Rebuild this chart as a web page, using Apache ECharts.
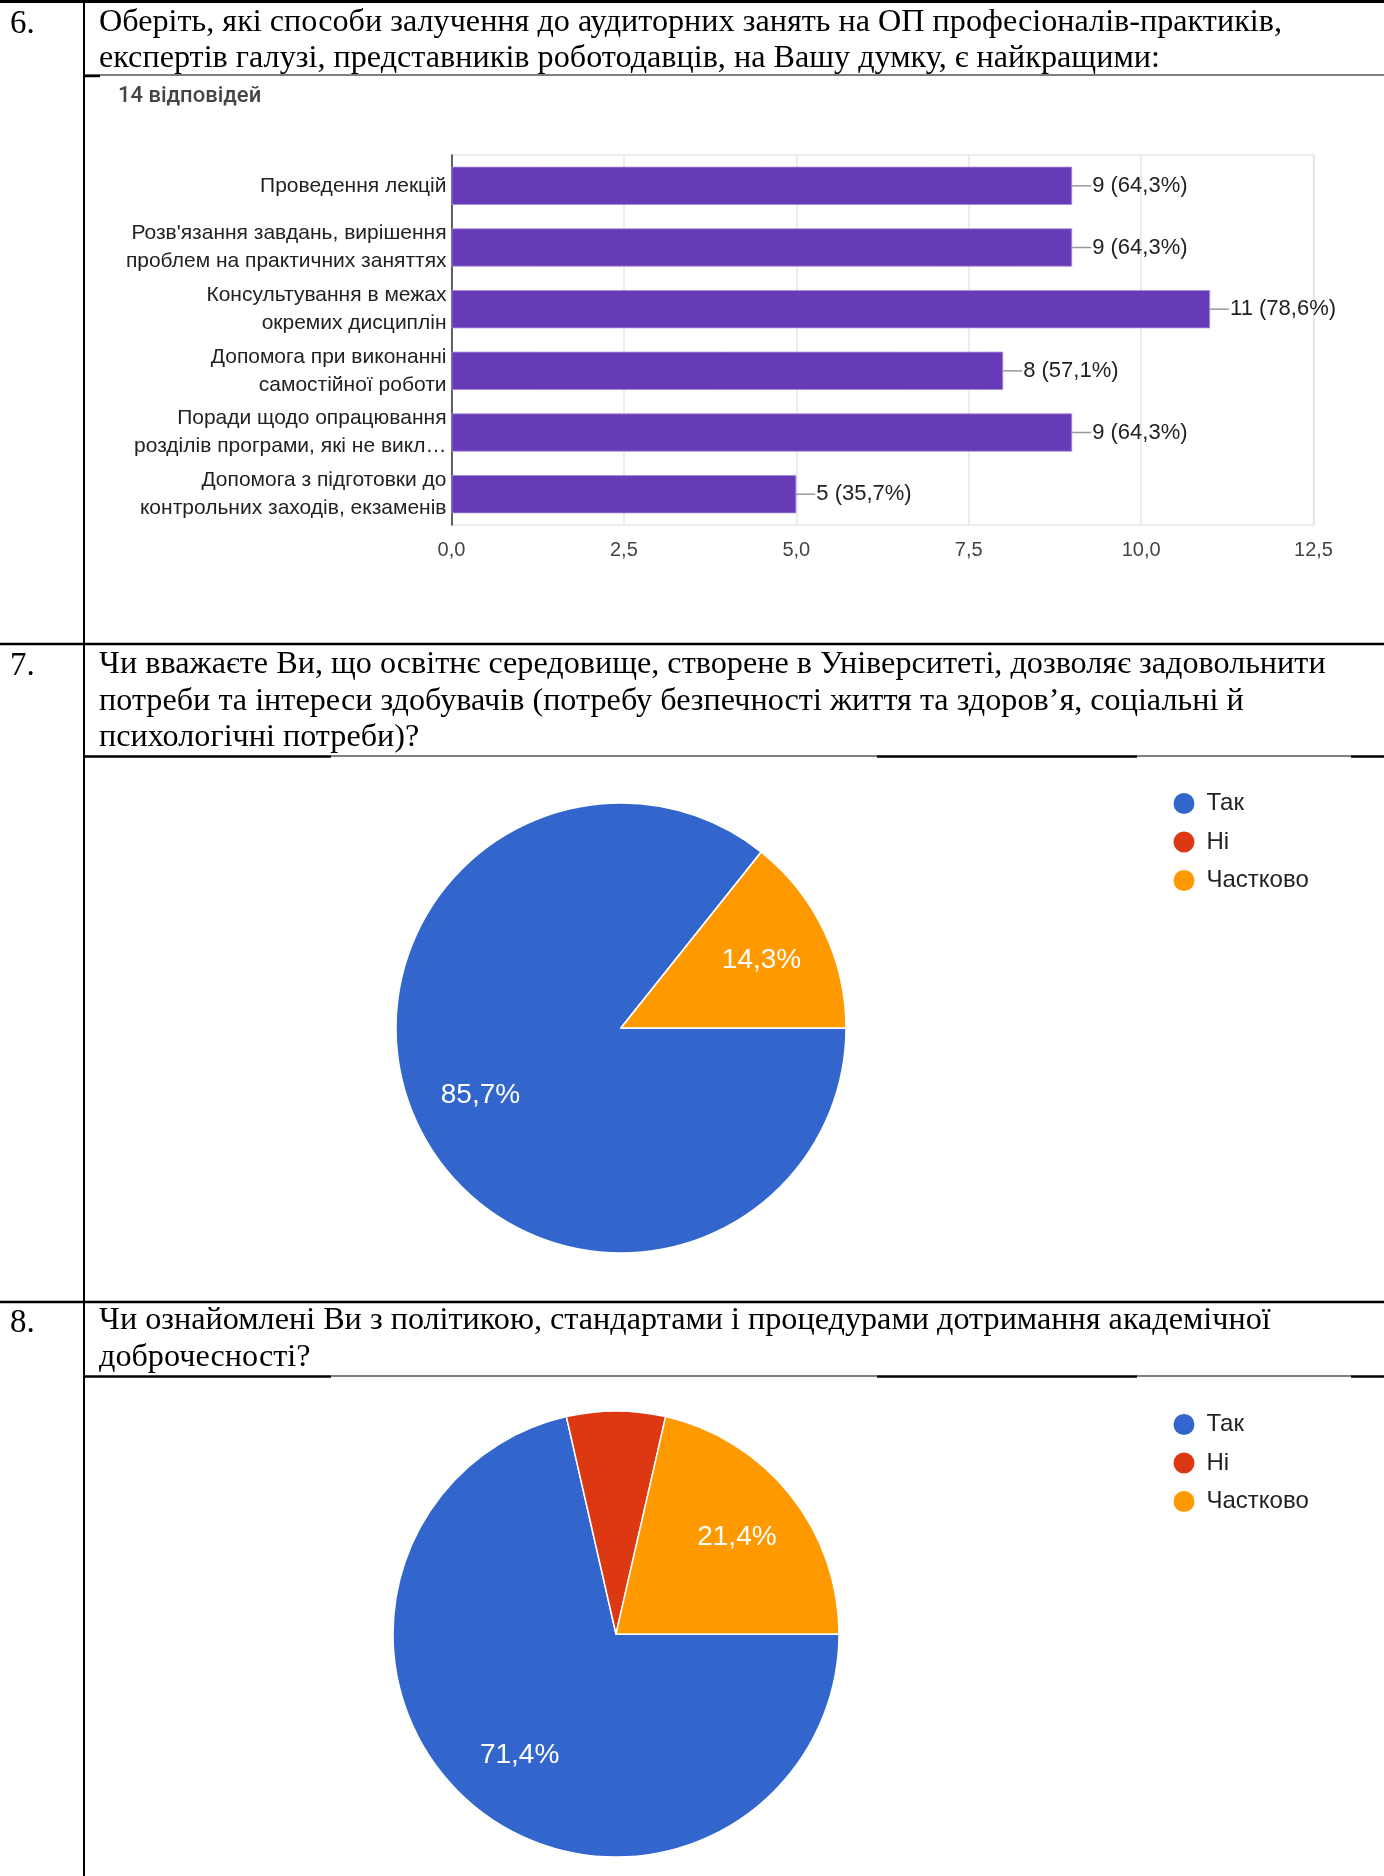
<!DOCTYPE html>
<html>
<head>
<meta charset="utf-8">
<script src="https://cdn.jsdelivr.net/npm/echarts@6/dist/echarts.min.js"></script>
<style>
html,body{margin:0;padding:0;background:#fff;}
#chart{width:1384px;height:1876px;}
</style>
</head>
<body>
<div id="chart"></div>
<script>
// ---------------- data ----------------
const respondents = 14;
const q6Lines = [
  "Оберіть, які способи залучення до аудиторних занять на ОП професіоналів-практиків,",
  "експертів галузі, представників роботодавців, на Вашу думку, є найкращими:"
];
const q7Lines = [
  "Чи вважаєте Ви, що освітнє середовище, створене в Університеті, дозволяє задовольнити",
  "потреби та інтереси здобувачів (потребу безпечності життя та здоров’я, соціальні й",
  "психологічні потреби)?"
];
const q8Lines = [
  "Чи ознайомлені Ви з політикою, стандартами і процедурами дотримання академічної",
  "доброчесності?"
];
const rowNumbers = ["6.", "7.", "8."];
const responsesLabel = "14 відповідей";
const barCategories = [
  "Проведення лекцій",
  "Розв'язання завдань, вирішення\nпроблем на практичних заняттях",
  "Консультування в межах\nокремих дисциплін",
  "Допомога при виконанні\nсамостійної роботи",
  "Поради щодо опрацювання\nрозділів програми, які не викл…",
  "Допомога з підготовки до\nконтрольних заходів, екзаменів"
];
const barValues = [9, 9, 11, 8, 9, 5];
const xAxisMax = 12.5;
const xAxisStep = 2.5;
const pieNames = ["Так", "Ні", "Частково"];
const pie7Values = [12, 0, 2];
const pie8Values = [10, 1, 3];
const pieColors = ["#3366cc", "#dc3912", "#ff9900"];

// ---------------- helpers ----------------
const SERIF = '"Liberation Serif", "Times New Roman", serif';
const SANS = '"Liberation Sans", Arial, sans-serif';
const comma = (n, d) => n.toFixed(d).replace('.', ',');

function textEl(str, x, y, size, opts) {
  opts = opts || {};
  return {
    type: 'text', x: x, y: y, silent: true,
    style: {
      text: str,
      font: (opts.weight || 'normal') + ' ' + size + 'px ' + (opts.family || SERIF),
      fill: opts.color || '#000',
      verticalAlign: 'middle',
      align: opts.align || 'left'
    }
  };
}
function lineEl(x1, y1, x2, y2, w) {
  return { type: 'line', silent: true, shape: { x1: x1, y1: y1, x2: x2, y2: y2 },
           style: { stroke: '#000', lineWidth: w } };
}

const QFS = 32.2;
const graphics = [];
// table lines
graphics.push(lineEl(0, 1.5, 1384, 1.5, 3));
graphics.push(lineEl(84, 0, 84, 1876, 2));
graphics.push(lineEl(84, 75, 1384, 75, 1.2));
graphics.push(lineEl(84, 76, 100, 76, 2.5));
graphics.push(lineEl(0, 644, 1384, 644, 2.5));
graphics.push(lineEl(0, 1302, 1384, 1302, 2.5));
[756, 1376].forEach(function (y) {
  graphics.push(lineEl(84, y + 0.5, 331, y + 0.5, 2.5));
  graphics.push(lineEl(331, y, 877, y, 1.2));
  graphics.push(lineEl(877, y + 0.5, 1137, y + 0.5, 2.5));
  graphics.push(lineEl(1137, y, 1351, y, 1.2));
  graphics.push(lineEl(1351, y + 0.5, 1384, y + 0.5, 2.5));
});
// row numbers
graphics.push(textEl(rowNumbers[0], 10, 24, 33));
graphics.push(textEl(rowNumbers[1], 10, 666, 33));
graphics.push(textEl(rowNumbers[2], 10, 1323, 33));
// question texts
q6Lines.forEach(function (s, i) { graphics.push(textEl(s, 99, 23 + i * 36, QFS)); });
q7Lines.forEach(function (s, i) { graphics.push(textEl(s, 99, 665 + i * 36.5, QFS)); });
q8Lines.forEach(function (s, i) { graphics.push(textEl(s, 99, 1321 + i * 37, QFS)); });
// responses count
graphics.push(textEl(responsesLabel, 118, 96, 22, { family: 'Roboto, ' + SANS, weight: 500, color: '#444' }));

function pieLabelFormatter(p) {
  return p.percent > 10 ? comma(p.percent, 1) + '%' : '';
}
function pieSeries(values, center, r) {
  const data = values.map(function (v, i) { return { name: pieNames[i], value: v }; });
  return [
    {
      type: 'pie', center: center, radius: r, startAngle: 0, clockwise: true,
      data: data, label: { show: false }, labelLine: { show: false },
      itemStyle: { borderColor: '#fff', borderWidth: 1.5 },
      emphasis: { scale: false }, silent: true
    },
    {
      type: 'pie', center: center, radius: [r * 0.36, r], startAngle: 0, clockwise: true,
      data: data, silent: true, legendHoverLink: false,
      itemStyle: { color: 'rgba(0,0,0,0)', borderWidth: 0 },
      label: { show: true, position: 'inside', formatter: pieLabelFormatter,
               color: '#fff', fontSize: 28, fontFamily: SANS },
      labelLine: { show: false }, emphasis: { disabled: true }
    }
  ];
}

const legendCommon = {
  orient: 'vertical', icon: 'circle', itemWidth: 23, itemHeight: 23, itemGap: 13.5,
  selectedMode: false, data: pieNames,
  textStyle: { fontSize: 24, fontFamily: SANS, color: '#222', padding: [0, 0, 0, 6] }
};

const option = {
  animation: false,
  color: pieColors,
  graphic: graphics,
  grid: {
    left: 451.5, top: 155, width: 862, height: 370,
    show: true, borderColor: '#e6e6e6', borderWidth: 1.5, backgroundColor: 'transparent'
  },
  xAxis: {
    type: 'value', min: 0, max: xAxisMax, interval: xAxisStep,
    axisLine: { show: false }, axisTick: { show: false },
    splitLine: { show: true, lineStyle: { color: '#e6e6e6', width: 1.5 } },
    axisLabel: { margin: 15, fontSize: 20, fontFamily: SANS, color: '#444',
                 formatter: function (v) { return comma(v, 1); } }
  },
  yAxis: {
    type: 'category', inverse: true, data: barCategories,
    axisLine: { show: true, lineStyle: { color: '#333', width: 1.5 } },
    axisTick: { show: false },
    axisLabel: { margin: 5, fontSize: 21, lineHeight: 28, fontFamily: SANS, color: '#222' }
  },
  legend: [
    Object.assign({}, legendCommon, { left: 1166.5, top: 786 }),
    Object.assign({}, legendCommon, { left: 1166.5, top: 1407 })
  ],
  series: [
    {
      type: 'bar', data: barValues, barCategoryGap: '38%', silent: true,
      itemStyle: { color: '#673ab7', borderColor: '#a58be0', borderWidth: 0.8 },
      label: {
        show: true, position: 'right', distance: 0,
        formatter: function (p) {
          return '{ln|}{t|' + p.value + ' (' + comma(p.value / respondents * 100, 1) + '%)}';
        },
        rich: {
          ln: { width: 19, height: 1.5, backgroundColor: '#999' },
          t: { fontSize: 22, fontFamily: SANS, color: '#222', padding: [0, 0, 0, 1] }
        }
      }
    }
  ].concat(pieSeries(pie7Values, [621, 1028], 225))
   .concat(pieSeries(pie8Values, [616, 1634], 223))
};

const chart = echarts.init(document.getElementById('chart'), null, { renderer: 'canvas' });
chart.setOption(option);
</script>
</body>
</html>
